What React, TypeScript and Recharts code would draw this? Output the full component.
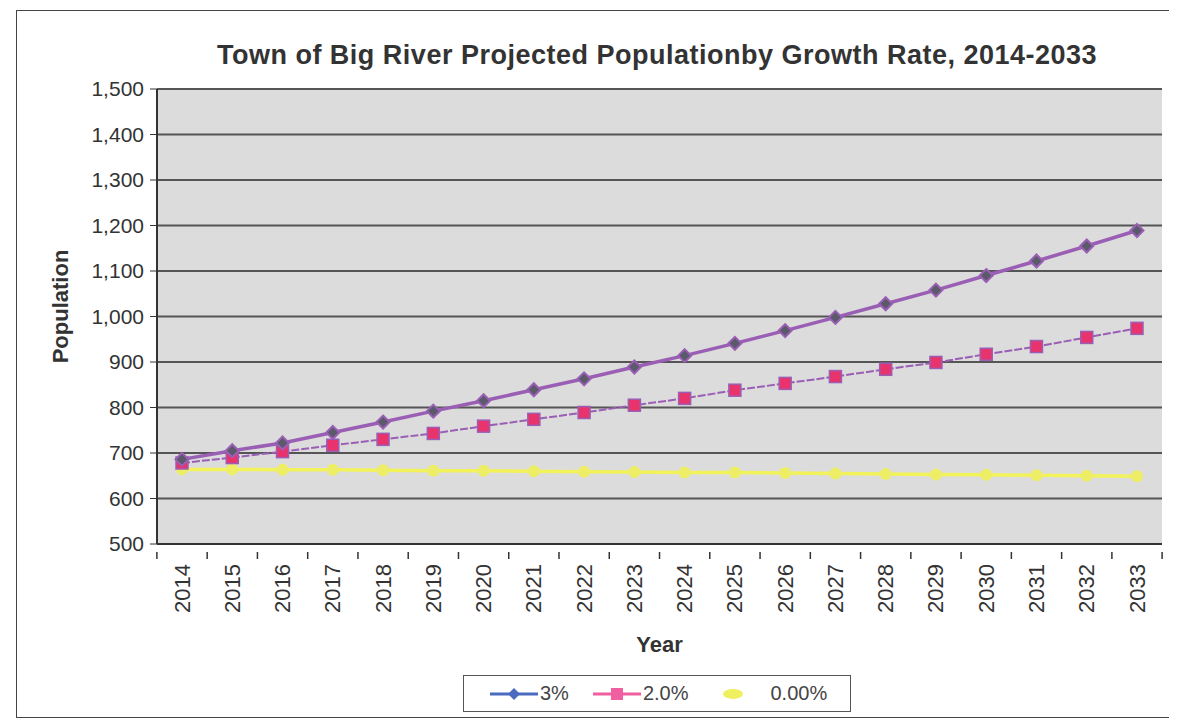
import React from 'react';
import { LineChart, Line, XAxis, YAxis, CartesianGrid, Legend } from 'recharts';

const years = ['2014','2015','2016','2017','2018','2019','2020','2021','2022','2023','2024','2025','2026','2027','2028','2029','2030','2031','2032','2033'];
const rate3 = [686, 705, 722, 745, 768, 792, 815, 839, 863, 889, 914, 941, 969, 998, 1028, 1058, 1090, 1122, 1155, 1189];
const rate2 = [678, 690, 703, 717, 730, 743, 759, 774, 789, 805, 820, 838, 853, 868, 884, 899, 917, 934, 954, 974];
const rate0 = [664, 664, 663, 663, 662, 661, 661, 660, 659, 658, 657, 657, 656, 655, 654, 653, 652, 651, 650, 649];
const yTicks = [500, 600, 700, 800, 900, 1000, 1100, 1200, 1300, 1400, 1500];

const data = years.map((y, i) => ({ year: y, r3: rate3[i], r2: rate2[i], r0: rate0[i] }));

const FONT = 'Liberation Sans, Arial, sans-serif';
const HALF_STEP = 25.1;

const Diamond = (p: any) => {
  const { cx, cy } = p;
  if (cx == null || cy == null) return null;
  const s = 6.5;
  return <polygon key={p.index} points={`${cx},${cy - s} ${cx + s},${cy} ${cx},${cy + s} ${cx - s},${cy}`} fill="#5a5a6a" stroke="#9a5fb5" strokeWidth={2} />;
};
const Square = (p: any) => {
  const { cx, cy } = p;
  if (cx == null || cy == null) return null;
  const s = 6;
  return <rect key={p.index} x={cx - s} y={cy - s} width={2 * s} height={2 * s} fill="#e8336d" stroke="#9a5fb5" strokeWidth={1.5} />;
};
const Dot0 = (p: any) => {
  const { cx, cy } = p;
  if (cx == null || cy == null) return null;
  return <circle key={p.index} cx={cx} cy={cy} r={6} fill="#eeee66" stroke="none" />;
};

const LegendBox = () => (
  <div style={{ width: 388, height: 37, border: '1.5px solid #555', boxSizing: 'border-box', display: 'flex', alignItems: 'center', fontFamily: FONT, fontSize: 20, color: '#444', background: '#fff' }}>
    <svg width={48} height={20} style={{ marginLeft: 26 }}>
      <line x1={0} y1={10} x2={48} y2={10} stroke="#4a6bbf" strokeWidth={3} />
      <polygon points="24,4 30,10 24,16 18,10" fill="#4a6bbf" />
    </svg>
    <span style={{ marginLeft: 2 }}>3%</span>
    <svg width={48} height={20} style={{ marginLeft: 24 }}>
      <line x1={0} y1={10} x2={48} y2={10} stroke="#f060a0" strokeWidth={3} />
      <rect x={18} y={4} width={12} height={12} fill="#f060a0" />
    </svg>
    <span style={{ marginLeft: 2 }}>2.0%</span>
    <svg width={48} height={20} style={{ marginLeft: 20 }}>
      <ellipse cx={24} cy={10} rx={10} ry={5} fill="#eef060" />
    </svg>
    <span style={{ marginLeft: 14 }}>0.00%</span>
  </div>
);

export default function App() {
  return (
    <div style={{ position: 'relative', width: 1165, height: 715, background: '#fff' }}>
      <div style={{ position: 'absolute', left: 8, top: 2, width: 1154, height: 708, border: '1.5px solid #444', boxSizing: 'border-box' }} />
      <div style={{ position: 'absolute', left: 0, top: 30, width: 1298, textAlign: 'center', fontFamily: FONT, fontWeight: 'bold', fontSize: 27, color: '#333', letterSpacing: 0.5, lineHeight: '34px' }}>
        Town of Big River Projected Populationby Growth Rate, 2014-2033
      </div>
      <div style={{ position: 'absolute', left: 0, top: 0 }}>
        <LineChart width={1165} height={715} data={data} margin={{ top: 81, right: 11, left: 0, bottom: 22 }}>
          <CartesianGrid vertical={false} stroke="#555" strokeWidth={2} fill="#dcdcdc" />
          <XAxis
            dataKey="year"
            height={120}
            interval={0}
            padding={{ left: 25, right: 25 }}
            tickLine={false}
            axisLine={{ stroke: '#333', strokeWidth: 2 }}
            tick={(props: any) => {
              const { x, y, payload, index } = props;
              const last = index === years.length - 1;
              return (
                <g>
                  <line x1={x - HALF_STEP} y1={y} x2={x - HALF_STEP} y2={y + 7} stroke="#333" strokeWidth={1.5} />
                  {last ? <line x1={x + HALF_STEP} y1={y} x2={x + HALF_STEP} y2={y + 7} stroke="#333" strokeWidth={1.5} /> : null}
                  <text x={x} y={y + 12} transform={`rotate(-90, ${x}, ${y + 12})`} textAnchor="end" dominantBaseline="central" fontFamily={FONT} fontSize={22} fill="#333">
                    {payload.value}
                  </text>
                </g>
              );
            }}
            label={(props: any) => {
              const vb = props.viewBox || {};
              return <text x={vb.x + vb.width / 2} y={vb.y + 108} textAnchor="middle" fontFamily={FONT} fontWeight="bold" fontSize={22} fill="#333">Year</text>;
            }}
          />
          <YAxis
            width={149}
            domain={[500, 1500]}
            ticks={yTicks}
            interval={0}
            tickSize={7}
            tickMargin={6}
            tickLine={{ stroke: '#333' }}
            axisLine={{ stroke: '#333', strokeWidth: 2 }}
            tickFormatter={(v: number) => v.toLocaleString('en-US')}
            tick={{ fontFamily: FONT, fontSize: 21, fill: '#333' }}
            label={(props: any) => {
              const vb = props.viewBox || {};
              const cy = vb.y + vb.height / 2 - 10;
              return <text x={52} y={cy} transform={`rotate(-90, 52, ${cy})`} textAnchor="middle" dominantBaseline="central" fontFamily={FONT} fontWeight="bold" fontSize={22} fill="#333">Population</text>;
            }}
          />
          <Legend
            content={() => <LegendBox />}
            wrapperStyle={{ position: 'absolute', left: 455, top: 667, width: 390 }}
          />
          <Line dataKey="r0" name="0.00%" stroke="#f2f25a" strokeWidth={3.5} dot={Dot0} isAnimationActive={false} />
          <Line dataKey="r2" name="2.0%" stroke="#9a5fb5" strokeWidth={2} strokeDasharray="8 2" dot={Square} isAnimationActive={false} />
          <Line dataKey="r3" name="3%" stroke="#9a5fb5" strokeWidth={3.5} dot={Diamond} isAnimationActive={false} />
        </LineChart>
      </div>
    </div>
  );
}
